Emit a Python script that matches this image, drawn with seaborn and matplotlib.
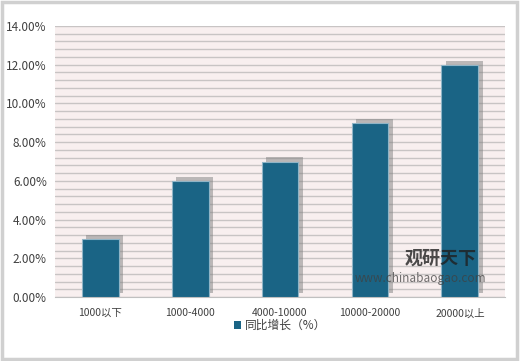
import matplotlib
matplotlib.use('Agg')
import matplotlib.pyplot as plt
import matplotlib.patheffects as pe
import seaborn as sns
import pandas as pd
from matplotlib.ticker import FuncFormatter, MultipleLocator
from matplotlib.patches import Rectangle

# data
categories = ['1000以下', '1000-4000', '4000-10000', '10000-20000', '20000以上']
growth = [3.0, 6.0, 7.0, 9.0, 12.0]
series_name = '同比增长（%）'

sns.set_style('white')
plt.rcParams['font.family'] = ['Noto Sans CJK SC', 'DejaVu Sans']

df = pd.DataFrame({'cat': categories, 'val': growth})

fig = plt.figure(figsize=(5.2, 3.61), dpi=100)
# light grey outer frame
fig.patches.append(Rectangle((0.004, 0.006), 0.99, 0.988, transform=fig.transFigure,
                             fill=False, edgecolor='#d0d0d0', linewidth=2.5))
ax = fig.add_axes([0.106, 0.177, 0.865, 0.751])
ax.set_facecolor('#f8efef')

sns.barplot(data=df, x='cat', y='val', color='#1a6485', width=0.41,
            saturation=1, ax=ax, zorder=3, label=series_name)
for bar in ax.patches:
    bar.set_edgecolor('#8fb4c6')
    bar.set_linewidth(0.8)
    bar.set_path_effects([pe.SimplePatchShadow(offset=(3, 3), shadow_rgbFace='#808080', alpha=0.5),
                          pe.Normal()])

ax.set_ylim(0, 14)
ax.set_xlim(-0.5, 4.5)
ax.yaxis.set_major_locator(MultipleLocator(2))
ax.yaxis.set_minor_locator(MultipleLocator(0.4))
ax.yaxis.set_major_formatter(FuncFormatter(lambda v, p: f'{v:.2f}%'))
ax.grid(axis='y', which='both', color='#c8c4c4', linewidth=1.0, zorder=0)
ax.set_axisbelow(True)
for s in ['top', 'right', 'left']:
    ax.spines[s].set_visible(False)
ax.spines['bottom'].set_color('#c0c0c0')
ax.tick_params(axis='y', which='both', length=0, labelsize=8.5, labelcolor='#404040', pad=6)
ax.tick_params(axis='x', length=0, labelsize=7.5, labelcolor='#404040', pad=8)
ax.set_xlabel('')
ax.set_ylabel('')

leg = ax.legend(loc='center', bbox_to_anchor=(0.5, -0.105), frameon=False,
                fontsize=8.5, handlelength=0.6, handleheight=0.6, handletextpad=0.3)
for t in leg.get_texts():
    t.set_color('#404040')
for h in leg.legend_handles:
    h.set_path_effects([])
    h.set_edgecolor('none')

# watermark
fig.text(0.848, 0.285, '观研天下', fontsize=13, fontweight='bold', color='#202020',
         alpha=0.8, ha='center', va='center')
fig.text(0.808, 0.228, 'www.chinabaogao.com', fontsize=8.5, color='#404040',
         alpha=0.75, ha='center', va='center')

fig.savefig('out.png', dpi=100)
